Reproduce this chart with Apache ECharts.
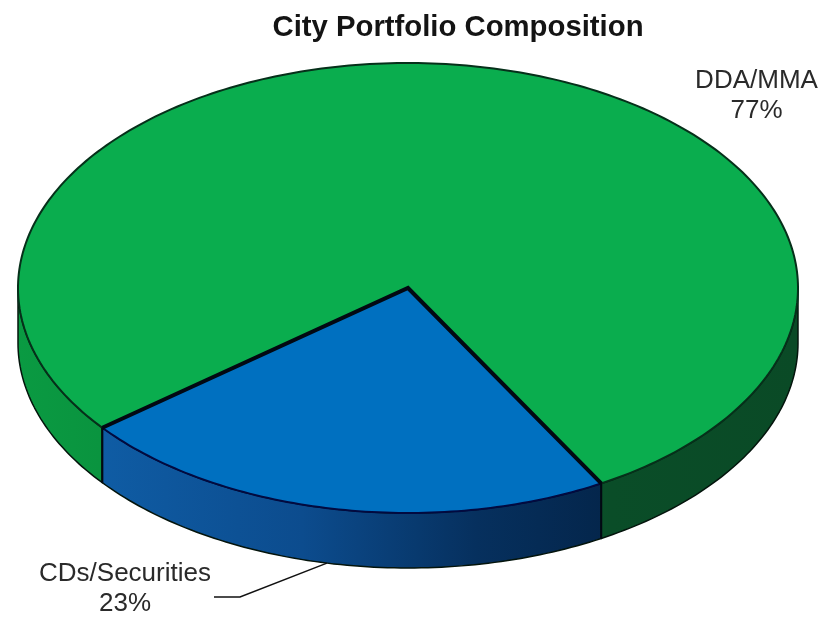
<!DOCTYPE html>
<html>
<head>
<meta charset="utf-8">
<style>html,body{margin:0;padding:0;background:#fff}#c{width:822px;height:621px}</style>
<script src="https://cdn.jsdelivr.net/npm/echarts@6/dist/echarts.min.js"></script>
</head>
<body>
<div id="c"></div>
<script>
const chartTitle = 'City Portfolio Composition';
const categories = ['DDA/MMA', 'CDs/Securities'];
const shares = [77, 23];
const topColors = ['#0aad4e', '#0070c0'];
const sideStops = [
  [[0, '#0a9a42'], [0.14, '#0a923e'], [0.76, '#0a4d28'], [1, '#0a4a26']],
  [[0, '#0f5ca4'], [0.4, '#0c4c8e'], [0.75, '#06305e'], [1, '#04264c']]
];

const cx = 408, cy = 288, rx = 390, ry = 225, depth = 55;
const blueStartDeg = 60.3;
const perspective = 1.5;
const total = shares.reduce((a, b) => a + b, 0);

function spanOf(i) {
  const sweep = v => v / total * 360;
  if (i === 1) return [blueStartDeg, blueStartDeg + sweep(shares[1])];
  const s = blueStartDeg + sweep(shares[1]);
  return [s, s + sweep(shares[0])];
}
// Small foreshortening of the tilted disc, as a 3D pie has: angle on the drawn ellipse.
function warp(deg) {
  return deg - perspective * Math.sin((deg - blueStartDeg) * Math.PI / 180);
}
function plainPt(deg, dy) {
  const t = deg * Math.PI / 180;
  return [cx + rx * Math.cos(t), cy + ry * Math.sin(t) + (dy || 0)];
}
function pt(deg, dy) {
  return plainPt(warp(deg), dy);
}
function arc(a, b, dy) {
  const n = Math.max(2, Math.ceil(Math.abs(b - a)));
  const out = [];
  for (let k = 0; k <= n; k++) out.push(pt(a + (b - a) * k / n, dy));
  return out;
}
function sideArc(s, e, dy) {
  const n = Math.max(2, Math.ceil(Math.abs(e - s)));
  const out = [];
  for (let k = 0; k <= n; k++) out.push(plainPt(s + (e - s) * k / n, dy));
  return out;
}
function frontParts(a, b) {
  const parts = [];
  [[0, 180], [360, 540]].forEach(([l, h]) => {
    const s = Math.max(a, l), e = Math.min(b, h);
    if (e > s) parts.push([s, e]);
  });
  return parts;
}

function renderItem(params) {
  const i = params.dataIndex;
  const [a, b] = spanOf(i);
  const children = [];
  const grad = {
    type: 'linear', global: true,
    x: i === 0 ? cx - rx : pt(spanOf(1)[1])[0], y: 0,
    x2: i === 0 ? cx + rx : pt(spanOf(1)[0])[0], y2: 0,
    colorStops: sideStops[i].map(s => ({ offset: s[0], color: s[1] }))
  };
  frontParts(warp(a), warp(b)).forEach(([s, e]) => {
    children.push({
      type: 'polygon',
      shape: { points: sideArc(s, e, 0).concat(sideArc(e, s, depth)) },
      style: { fill: grad, stroke: '#04140c', lineWidth: 1.5, lineJoin: 'round' }
    });
  });
  const wedge = [[cx, cy]].concat(arc(a, b, 0));
  children.push({
    type: 'polygon',
    shape: { points: wedge },
    style: { fill: topColors[i], stroke: i === 0 ? '#06301a' : 'none', lineWidth: 2 }
  });
  if (i === 1) {
    children.push({
      type: 'polyline',
      shape: { points: arc(a, b, 0) },
      style: { fill: 'none', stroke: '#020a40', lineWidth: 2 }
    });
    children.push({
      type: 'polyline',
      shape: { points: [pt(a), [cx, cy], pt(b)] },
      style: { fill: 'none', stroke: '#020812', lineWidth: 4, lineJoin: 'miter' }
    });
    [a, b].forEach(d => children.push({
      type: 'line',
      shape: { x1: pt(d)[0], y1: pt(d)[1], x2: pt(d, depth)[0], y2: pt(d, depth)[1] },
      style: { stroke: '#020812', lineWidth: 2 }
    }));
    const mid = plainPt(102, depth);
    children.push({
      type: 'polyline',
      shape: { points: [mid, [240, 597], [214, 597]] },
      style: { fill: 'none', stroke: '#111', lineWidth: 1.5 }
    });
  }
  const labelAt = i === 0 ? [756.5, 96] : [125, 589];
  children.push({
    type: 'text',
    style: {
      x: labelAt[0], y: labelAt[1],
      text: categories[i] + '\n' + shares[i] + '%',
      fill: '#2a2a2a',
      font: '26px "Liberation Sans", Arial, sans-serif',
      lineHeight: 30, align: 'center', verticalAlign: 'middle'
    }
  });
  return { type: 'group', children };
}

const chart = echarts.init(document.getElementById('c'), null, { renderer: 'canvas' });
chart.setOption({
  animation: false,
  backgroundColor: '#ffffff',
  title: {
    text: chartTitle, left: 453, top: 8, textAlign: 'center',
    textStyle: { fontFamily: '"Liberation Sans", Arial, sans-serif', fontSize: 29.3, fontWeight: 'bold', color: '#141414' }
  },
  series: [{
    type: 'custom',
    coordinateSystem: 'none',
    renderItem: renderItem,
    data: categories.map((c, i) => ({ name: c, value: shares[i] }))
  }]
});
</script>
</body>
</html>
